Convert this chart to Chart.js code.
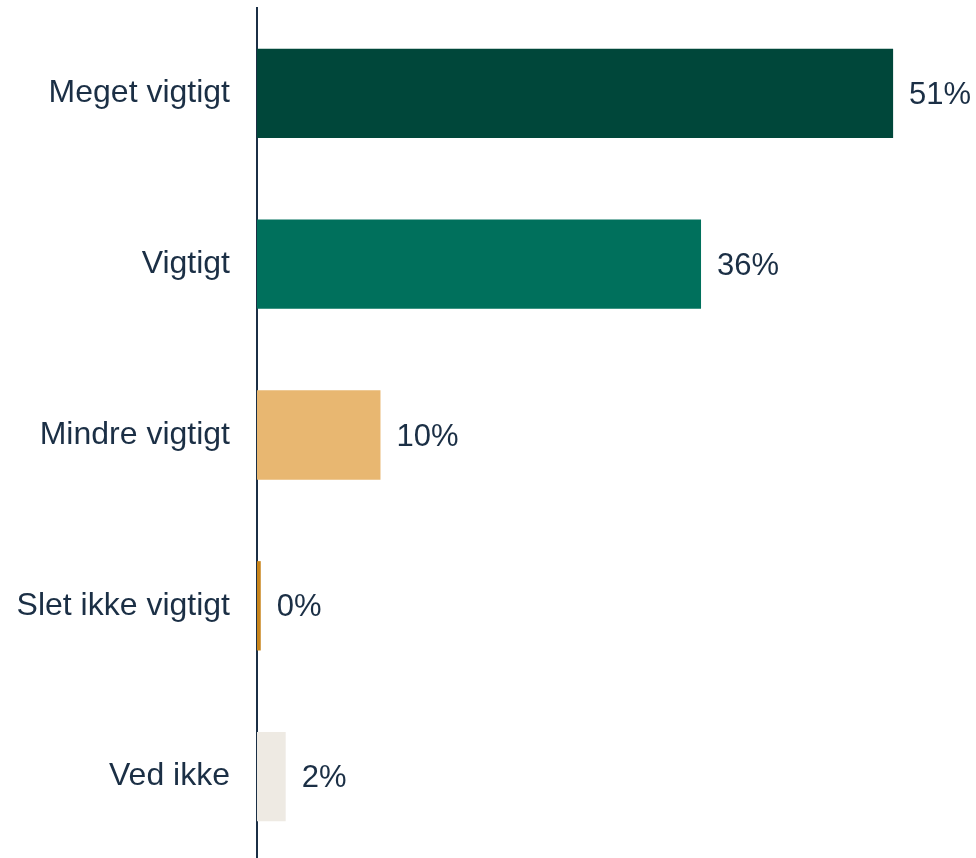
<!DOCTYPE html>
<html>
<head>
<meta charset="utf-8">
<script src="https://cdn.jsdelivr.net/npm/chart.js@4/dist/chart.umd.min.js"></script>
<style>
  html, body { margin: 0; padding: 0; background: #fff; }
  #wrap { width: 976px; height: 858px; overflow: hidden; }
</style>
</head>
<body>
<div id="wrap"><canvas id="chart" width="976" height="862"></canvas></div>
<script>
// Categories and values
const categories = ['Meget vigtigt', 'Vigtigt', 'Mindre vigtigt', 'Slet ikke vigtigt', 'Ved ikke'];
const shares = [51, 35.6, 9.9, 0.3, 2.3];
const shareLabels = ['51%', '36%', '10%', '0%', '2%'];
const barColors = ['#00473a', '#00705c', '#e8b771', '#c8841a', '#eeeae3'];

const textColor = '#1b2f45';
const fontFamily = '"Liberation Sans", Arial, sans-serif';

// Simple plugin: write the percentage just right of each bar
const valueLabels = {
  id: 'valueLabels',
  afterDatasetsDraw(chart) {
    const ctx = chart.ctx;
    const meta = chart.getDatasetMeta(0);
    ctx.save();
    ctx.font = '31px ' + fontFamily;
    ctx.fillStyle = textColor;
    ctx.textAlign = 'left';
    ctx.textBaseline = 'middle';
    meta.data.forEach((bar, i) => {
      ctx.fillText(shareLabels[i], bar.x + 16, bar.y + 2);
    });
    ctx.restore();
  }
};

new Chart(document.getElementById('chart').getContext('2d'), {
  type: 'bar',
  data: {
    labels: categories,
    datasets: [{
      data: shares,
      backgroundColor: barColors,
      borderWidth: 0,
      barPercentage: 0.523,
      categoryPercentage: 1
    }]
  },
  options: {
    indexAxis: 'y',
    responsive: false,
    maintainAspectRatio: false,
    animation: false,
    layout: { padding: { top: 8, right: 33, bottom: 0, left: 0 } },
    plugins: {
      legend: { display: false },
      tooltip: { enabled: false }
    },
    scales: {
      x: {
        display: false,
        min: 0,
        max: 55
      },
      y: {
        grid: { display: false },
        border: { display: true, color: textColor, width: 2 },
        ticks: {
          color: textColor,
          padding: 19,
          font: { size: 32, family: fontFamily }
        },
        afterFit(scale) {
          scale.width = 257;
          scale.paddingTop = 0;
          scale.paddingBottom = 0;
        }
      }
    }
  },
  plugins: [valueLabels]
});
</script>
</body>
</html>
